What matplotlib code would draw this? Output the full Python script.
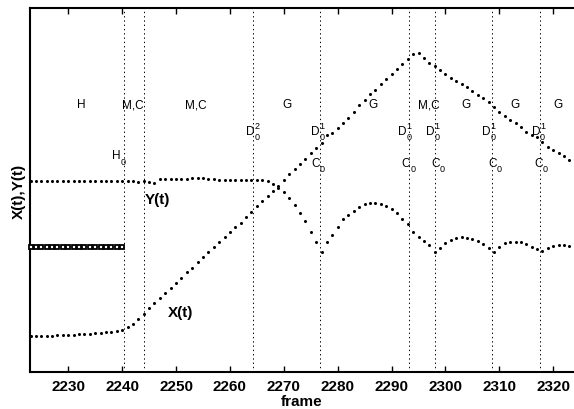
import numpy as np
import matplotlib
matplotlib.use("Agg")
import matplotlib.pyplot as plt

plt.rcParams['font.family'] = ['Liberation Sans', 'DejaVu Sans']

# ------------------------------------------------------------
# Data (arbitrary vertical units)
# ------------------------------------------------------------

frames = np.arange(2223, 2324)

x_t = [
    36.0, 36.0, 36.3, 36.3, 36.5, 36.7, 37.0, 37.0, 37.3, 37.7,
    38.0, 38.3, 38.7, 39.3, 39.7, 40.3, 41.3, 42.5, 44.7, 48.5,
    52.7, 58.0, 64.3, 69.3, 74.0, 78.7, 84.0, 89.3, 94.3, 99.7,
    104.3, 109.7, 114.7, 119.7, 124.7, 130.0, 134.7, 139.7, 144.7, 149.5,
    155.0, 160.5, 165.7, 171.3, 176.3, 181.3, 186.3, 192.5, 198.0, 203.3,
    208.5, 212.7, 218.7, 223.8, 228.8, 236.7, 238.8, 244.2, 249.0, 254.2,
    260.5, 267.0, 272.3, 277.7, 282.3, 287.7, 293.0, 298.0, 303.0, 308.0,
    313.0, 318.0, 318.7, 313.8, 309.3, 305.8, 301.7, 298.5, 294.2, 291.2,
    287.8, 284.7, 281.0, 277.2, 274.3, 270.0, 265.5, 260.5, 256.3, 252.5,
    248.8, 244.7, 240.5, 237.5, 234.7, 230.0, 225.5, 222.2, 219.2, 216.5,
    212.5,
]

y_t = [
    191.3, 191.3, 191.3, 191.3,
    191.0, 191.0, 191.0, 191.0, 191.0, 191.0, 191.0, 191.0, 191.0,
    190.7, 190.7, 190.7, 190.7, 190.7, 190.7, 190.7,
    190.3, 190.7, 190.0, 188.7,
    193.3, 193.3, 193.3, 193.3, 193.3, 193.3,
    193.7, 193.7, 194.0, 193.3, 192.7,
    192.3, 192.3, 192.3, 192.0, 192.0, 192.0,
    192.3, 192.3, 192.0, 190.7, 188.0, 184.3, 180.0,
    173.7, 167.3, 159.0, 150.7, 139.7, 129.7, 120.5,
    130.0, 137.0, 145.5, 153.0, 157.0, 161.5, 165.5, 167.8, 168.8, 169.5,
    168.5, 166.5, 162.7, 158.8, 153.4, 148.0, 140.3, 135.5, 131.0, 127.0, 120.3,
    123.7, 128.7, 132.3, 134.0, 134.7, 134.0, 133.0, 130.7, 128.0, 123.7, 120.3,
    124.7, 128.7, 129.7, 130.3, 129.7, 128.0, 124.7, 123.0, 120.7,
    123.7, 125.7, 127.0, 127.0, 125.7,
]

# square marker row (hold segment)
sq_frames = list(range(2223, 2241))
sq_level = 125.3

# event boundaries
event_frames = [2240.4, 2244.1, 2264.3, 2276.8, 2293.2, 2298.0, 2308.6, 2317.6]

# state labels along the top row
state_x = [2232.5, 2241.9, 2253.7, 2270.5, 2286.6, 2297.0, 2303.8, 2312.9, 2320.8]
state_text = ['H', 'M,C', 'M,C', 'G', 'G', 'M,C', 'G', 'G', 'G']
state_level = 264.7

# D events
d_x = [2264.3, 2276.4, 2292.5, 2297.7, 2308.1, 2317.3]
d_sup = ['2', '1', '1', '1', '1', '1']
d_level = 238.0

# H_0 event
h0_x = 2239.4
h0_level = 213.7

# C_0 events
c_x = [2276.4, 2293.2, 2298.7, 2309.2, 2317.8]
c_level = 206.3


def event_label(ax, x, y, letter, sub=None, sup=None):
    # letter to the left of x, scripts to the right (offsets in points)
    ax.annotate(letter, (x, y), xytext=(1.1, 0), textcoords='offset points',
                ha='right', va='baseline', fontsize=8.5)
    if sup is not None:
        ax.annotate(sup, (x, y), xytext=(1.0, 4.6), textcoords='offset points',
                    ha='left', va='baseline', fontsize=6.5)
    if sub is not None:
        ax.annotate(sub, (x, y), xytext=(1.0, -3.8), textcoords='offset points',
                    ha='left', va='baseline', fontsize=6.5)


# ------------------------------------------------------------
# Plot
# ------------------------------------------------------------

fig = plt.figure(figsize=(5.74, 4.10), dpi=100)
ax = fig.add_axes([30 / 574, 37.3 / 410, 1 - 30 / 574, 363.4 / 410])

for xf in event_frames:
    ax.axvline(xf, color='black', lw=0.7, linestyle=(0, (1.4, 3)))

ax.plot(frames, x_t, 'o', color='black', ms=2.2, mew=0)
ax.plot(frames, y_t, 'o', color='black', ms=2.2, mew=0)

ax.plot(sq_frames, [sq_level] * len(sq_frames), 's', ms=3.5, mfc='white',
        mec='black', mew=1.3, clip_on=False, zorder=5)

for xs, t in zip(state_x, state_text):
    ax.text(xs, state_level, t, ha='center', va='baseline', fontsize=8.5)

for xs, s in zip(d_x, d_sup):
    event_label(ax, xs, d_level, 'D', sub='0', sup=s)

event_label(ax, h0_x, h0_level, 'H', sub='0')

for xs in c_x:
    event_label(ax, xs, c_level, 'C', sub='0')

ax.text(2246.5, 173, 'Y(t)', ha='center', va='center', fontsize=11,
        fontweight='bold')
ax.text(2250.8, 60.3, 'X(t)', ha='center', va='center', fontsize=11,
        fontweight='bold')

ax.set_xlim(2222.9, 2323.85)
ax.set_ylim(0.3, 363.7)
ax.set_xticks([2230, 2240, 2250, 2260, 2270, 2280, 2290, 2300, 2310, 2320])
ax.set_yticks([])
ax.tick_params(axis='x', direction='in', top=True, bottom=True, length=4,
               width=1, labelsize=11, pad=5)
for lab in ax.get_xticklabels():
    lab.set_fontweight('bold')

for side in ['left', 'bottom', 'top']:
    ax.spines[side].set_linewidth(1.5)
ax.spines['right'].set_visible(False)

ax.set_xlabel('frame', fontsize=11, fontweight='bold', labelpad=1)
ax.set_ylabel('X(t),Y(t)', fontsize=11, fontweight='bold', labelpad=3)

fig.savefig('out.png', dpi=100)
